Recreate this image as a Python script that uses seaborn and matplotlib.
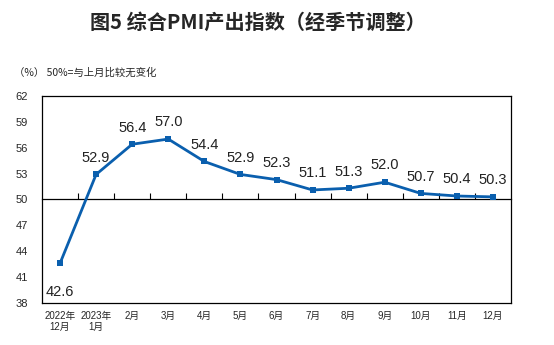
import matplotlib
matplotlib.use("Agg")
import matplotlib.pyplot as plt
import seaborn as sns
import pandas as pd
import numpy as np

months = ["2022年\n12月", "2023年\n1月", "2月", "3月", "4月", "5月", "6月",
          "7月", "8月", "9月", "10月", "11月", "12月"]
pmi = [42.6, 52.9, 56.4, 57.0, 54.4, 52.9, 52.3, 51.1, 51.3, 52.0, 50.7, 50.4, 50.3]
yticks = [38, 41, 44, 47, 50, 53, 56, 59, 62]

sns.set_theme(style="white")
plt.rcParams["font.family"] = ["Liberation Sans", "Noto Sans CJK SC", "DejaVu Sans"]

df = pd.DataFrame({"pos": np.arange(len(months)), "pmi": pmi})
line_color = "#0a5fae"

fig = plt.figure(figsize=(5.54, 3.45), dpi=100)
ax = fig.add_axes([0.0758, 0.1217, 0.8466, 0.6003])

sns.lineplot(data=df, x="pos", y="pmi", ax=ax, color=line_color, linewidth=2.0,
             marker="s", markersize=4.5, markeredgewidth=0, zorder=3)

ax.set_xlim(-0.5, len(months) - 0.5)
ax.set_ylim(yticks[0], yticks[-1])
ax.set_yticks(yticks)
ax.set_yticklabels([str(v) for v in yticks], fontsize=8)
ax.set_xticks(df["pos"])
ax.set_xticklabels(months, fontsize=7, linespacing=1.1)
ax.set_xlabel("")
ax.set_ylabel("")
ax.tick_params(axis="y", direction="out", length=4, width=0.8, color="black", pad=6)
ax.tick_params(axis="x", length=0, pad=6)
for s in ax.spines.values():
    s.set_visible(True)
    s.set_color("black")
    s.set_linewidth(0.9)

# Reference line at 50 with month-boundary ticks
ref = ax.twiny()
ref.set_xlim(ax.get_xlim())
ref.spines["top"].set_visible(False)
ref.spines["left"].set_visible(False)
ref.spines["right"].set_visible(False)
ref.spines["bottom"].set_position(("data", 50))
ref.spines["bottom"].set_color("black")
ref.spines["bottom"].set_linewidth(0.9)
ref.xaxis.set_ticks_position("bottom")
ref.set_xticks(np.arange(0.5, len(months) - 0.5, 1.0))
ref.set_xticklabels([])
ref.tick_params(axis="x", direction="in", length=4, width=0.8, color="black")
ref.set_zorder(ax.get_zorder() - 1)
ax.patch.set_visible(False)

# Value labels
for x, v in zip(df["pos"], pmi):
    if v < 50:
        ax.annotate(f"{v:.1f}", (x, v), xytext=(0, -26), textcoords="offset points",
                    ha="center", va="bottom", fontsize=10.5, color="#222222")
    else:
        ax.annotate(f"{v:.1f}", (x, v), xytext=(0, 7), textcoords="offset points",
                    ha="center", va="bottom", fontsize=10.5, color="#222222")

fig.text(0.465, 0.936, "图5 综合PMI产出指数（经季节调整）", ha="center", va="center",
         fontsize=14.5, fontweight="bold", family=["Noto Sans CJK SC", "DejaVu Sans"])
fig.text(0.025, 0.791, "（%） 50%=与上月比较无变化", ha="left", va="center",
         fontsize=7.5, family=["Noto Sans CJK SC", "DejaVu Sans"])

fig.savefig("out.png", dpi=100, facecolor="white")
